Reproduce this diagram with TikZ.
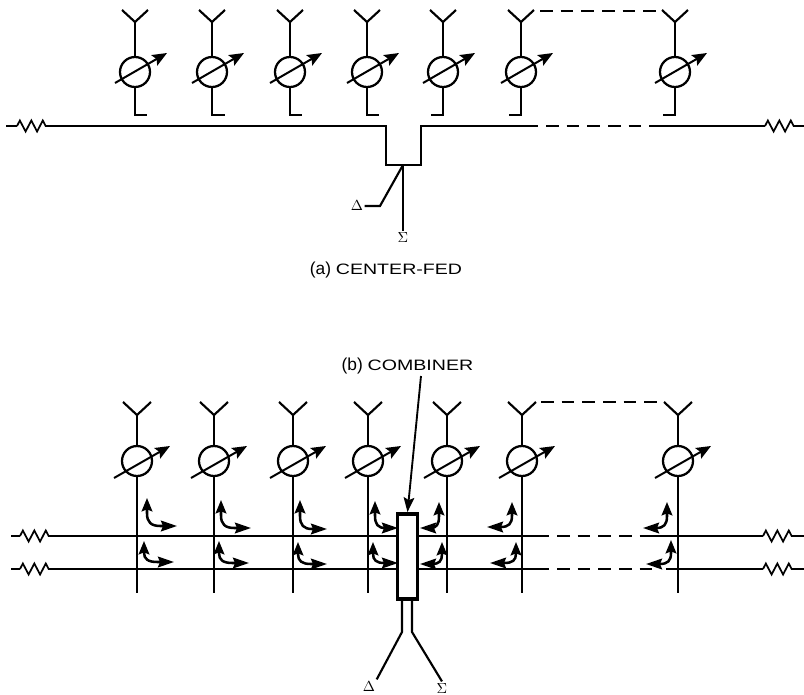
\documentclass[tikz,border=0pt]{standalone}
\usepackage{fontspec}
\setmainfont{Liberation Sans}
\newfontfamily\capfont[FakeStretch=1.3]{Liberation Sans}
\usepackage{tikz}
\usetikzlibrary{arrows.meta,calc,decorations.pathmorphing}
\tikzset{
  feed/.style={line width=1.6pt},
  gap/.style={line width=1.6pt,dash pattern=on 9.5pt off 6pt},
  shifter/.style={draw,circle,line width=1.7pt,minimum size=22.5pt,inner sep=0pt},
  tune/.style={line width=1.5pt,-{Stealth[length=11pt,width=9pt,inset=2pt]}},
  flow/.style={line width=1.9pt,{Stealth[length=10pt,width=8pt,inset=1.5pt]}-{Stealth[length=12pt,width=8pt,inset=1.5pt]}},
  load/.style={line width=1.3pt,decorate,decoration={zigzag,segment length=8.6pt,amplitude=4.1pt}},
  captext/.style={font=\fontsize{13}{15}\selectfont},
  sym/.style={font=\fontsize{11}{13}\selectfont,inner sep=1pt}
}
\newcommand{\capsize}{\capfont\fontsize{11.3}{13}\selectfont}
\begin{document}
\begin{tikzpicture}[x=0.75pt,y=-0.75pt]
\useasboundingbox (0,0) rectangle (804,694);
% (a) center-fed
\foreach \i/\x/\f in {1/135/12,2/212/13,3/290/12,4/367/12,5/443/-12,6/521/-12,7/675/-12}{
  \node[shifter] (pa\i) at (\x,72) {};
  \coordinate (ja\i) at (\x,22);
  \coordinate (fa\i) at (\x,115);
  \draw[feed] ($(ja\i)+(-13,-12)$) -- (ja\i) -- ($(ja\i)+(13,-12)$);
  \draw[feed] (ja\i) -- (pa\i.north);
  \draw[feed] (pa\i.south) -- (fa\i) -- ++(\f,0);
  \draw[tune] ($(pa\i)+(-20,11)$) -- ($(pa\i)+(32,-19)$);
}
\coordinate (a1) at (6,126);
\coordinate (a2) at (17,126);
\coordinate (a3) at (50,126);
\coordinate (a4) at (386,126);
\coordinate (a5) at (386,165);
\coordinate (a6) at (421,165);
\coordinate (a7) at (421,126);
\coordinate (a8) at (538,126);
\coordinate (a9) at (655,126);
\coordinate (a10) at (765,126);
\coordinate (a11) at (796,126);
\coordinate (a12) at (804,126);
\draw[feed] (a1) -- (a2);
\draw[load] (a2) -- (a3);
\draw[feed] (a3) -- (a4) -- (a5) -- (a6) -- (a7) -- (a8);
\draw[gap,dash phase=9.5pt] (a8) -- (a9);
\draw[feed] (a9) -- (a10);
\draw[load] (a10) -- (a11);
\draw[feed] (a11) -- (a12);
\coordinate (ga1) at (540,11);
\coordinate (ga2) at (660,11);
\draw[gap] (ga1) -- (ga2);
% sum and difference
\node[sym] (da) at (357,206) {$\Delta$};
\node[sym] (sa) at (403,238) {$\Sigma$};
\coordinate (ca) at (403,165);
\coordinate (ka) at (380,206);
\draw[feed] (ca) -- (sa);
\draw[feed] (ca) -- (ka) -- (da);
\node[captext] (capa) at (386,270) {(a) {\capsize CENTER-FED}};
% (b) combiner
\foreach \i/\x in {1/137,2/214,3/293,4/368,5/447,6/522,7/678}{
  \node[shifter] (pb\i) at (\x,461) {};
  \coordinate (jb\i) at (\x,415);
  \coordinate (eb\i) at (\x,593);
  \draw[feed] ($(jb\i)+(-14,-13)$) -- (jb\i) -- ($(jb\i)+(14,-13)$);
  \draw[feed] (jb\i) -- (pb\i.north);
  \draw[feed] (pb\i.south) -- (eb\i);
  \draw[tune] ($(pb\i)+(-23,17)$) -- ($(pb\i)+(33,-15)$);
}
% upper and lower lines
\foreach \n/\y/\e in {u/536/645,l/569/652}{
  \coordinate (\n1) at (11,\y);
  \coordinate (\n2) at (20,\y);
  \coordinate (\n3) at (53,\y);
  \coordinate (\n4) at (549,\y);
  \coordinate (\n5) at (\e,\y);
  \coordinate (\n7) at (763,\y);
  \coordinate (\n8) at (796,\y);
  \coordinate (\n9) at (804,\y);
  \draw[feed] (\n1) -- (\n2);
  \draw[load] (\n2) -- (\n3);
  \draw[feed] (\n3) -- (\n4);
  \draw[gap,dash phase=9.5pt] (\n4) -- (\n5);
  \draw[load] (\n7) -- (\n8);
  \draw[feed] (\n8) -- (\n9);
}
\draw[feed] (u5) -- (u7);
\coordinate (l6) at (666,569);
\draw[feed] (l6) -- (l7);
\coordinate (gb1) at (541,402);
\coordinate (gb2) at (662,402);
\draw[gap] (gb1) -- (gb2);
% coupled signals
\foreach \k/\ux/\uy/\sx/\sy in {
  a/147/498/177/526,b/221/500/251/528,c/300/500/327/529,d/375/501/398/528,
  e/144/541/174/562,f/219/541/249/563,g/298/542/327/564,h/373/542/398/563,
  i/439/502/420/528,j/512/502/487/527,k/667/502/643/528,
  m/442/542/420/564,n/516/542/490/563,o/671/540/646/564}{
  \coordinate (s\k) at (\ux,\uy);
  \coordinate (t\k) at (\sx,\sy);
  \coordinate (c\k) at (\ux,\sy);
  \coordinate (v\k) at ($(s\k)!0.55!(c\k)$);
  \coordinate (w\k) at ($(t\k)!0.55!(c\k)$);
  \draw[flow] (s\k) -- (v\k) .. controls ($(v\k)!0.7!(c\k)$) and ($(w\k)!0.7!(c\k)$) .. (w\k) -- (t\k);
}
\node[draw,fill=white,line width=2.6pt,minimum width=15pt,minimum height=64pt,inner sep=0pt] (comb) at (407.5,556.5) {};
\node[captext] (capb) at (407.5,366) {(b) {\capsize COMBINER}};
\draw[line width=1.4pt,-{Stealth[length=11pt,width=8pt,inset=2pt]}] (421,376) -- (comb.north);
\node[sym] (db) at (369,686) {$\Delta$};
\node[sym] (sb) at (442,688) {$\Sigma$};
\coordinate (kd) at (402,632);
\coordinate (ks) at (412,632);
\draw[feed] (kd|-comb.south) -- (kd) -- (db.north east);
\draw[feed] (ks|-comb.south) -- (ks) -- (sb.north);
\end{tikzpicture}
\end{document}
